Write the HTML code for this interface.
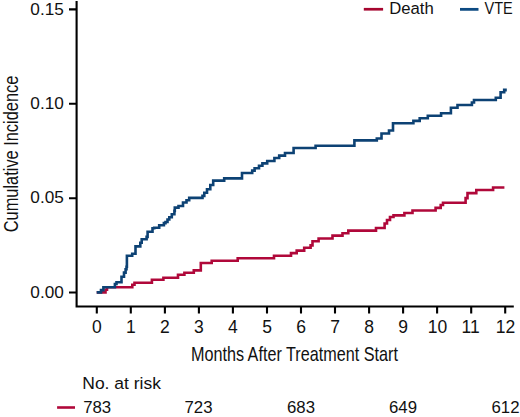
<!DOCTYPE html>
<html><head><meta charset="utf-8"><style>
html,body{margin:0;padding:0;background:#fff;}
svg{display:block;}
text{font-family:"Liberation Sans",sans-serif;fill:#111;}
</style></head><body>
<svg width="520" height="417" viewBox="0 0 520 417">
<!-- axes -->
<g stroke="#000" stroke-width="2.1" fill="none">
<path d="M76.6 1V306.5H513.8"/>
<path d="M69 9.4H76.6M69 103.8H76.6M69 198.2H76.6M69 292.5H76.6"/>
<path d="M96.8 306.5V313.4M130.8 306.5V313.4M164.9 306.5V313.4M198.9 306.5V313.4M232.9 306.5V313.4M267 306.5V313.4M301 306.5V313.4M335 306.5V313.4M369.1 306.5V313.4M403.1 306.5V313.4M437.1 306.5V313.4M471.2 306.5V313.4M505.2 306.5V313.4"/>
</g>
<!-- y tick labels -->
<g font-size="17.2" text-anchor="end">
<text x="63.8" y="14.5">0.15</text>
<text x="63.8" y="109">0.10</text>
<text x="63.8" y="203.4">0.05</text>
<text x="63.8" y="297.6">0.00</text>
</g>
<!-- x tick labels -->
<g font-size="17.5" text-anchor="middle">
<text x="96.8" y="332.6">0</text>
<text x="130.8" y="332.6">1</text>
<text x="164.9" y="332.6">2</text>
<text x="198.9" y="332.6">3</text>
<text x="232.9" y="332.6">4</text>
<text x="267" y="332.6">5</text>
<text x="301" y="332.6">6</text>
<text x="335" y="332.6">7</text>
<text x="369.1" y="332.6">8</text>
<text x="403.1" y="332.6">9</text>
<text x="437.5" y="332.6">10</text>
<text x="470.7" y="332.6">11</text>
<text x="505.6" y="332.6">12</text>
</g>
<!-- axis titles -->
<text x="190.9" y="361" font-size="20.8" textLength="207" lengthAdjust="spacingAndGlyphs">Months After Treatment Start</text>
<text transform="translate(17.6 232.2) rotate(-90)" x="0" y="0" font-size="21" textLength="156.5" lengthAdjust="spacingAndGlyphs">Cumulative Incidence</text>
<!-- legend -->
<path d="M363.8 9.25H383.1" stroke="#a6062f" stroke-width="2.7"/>
<path d="M460 9.35H478.5" stroke="#0c4a82" stroke-width="2.8"/>
<text x="389.2" y="13.8" font-size="16.7">Death</text>
<text x="484.6" y="13.8" font-size="16.7" textLength="28.2" lengthAdjust="spacingAndGlyphs">VTE</text>
<!-- at risk -->
<text x="82.3" y="388.5" font-size="16.9" textLength="78.6" lengthAdjust="spacingAndGlyphs">No. at risk</text>
<path d="M57.1 407.5H75" stroke="#b0083a" stroke-width="2.6"/>
<g font-size="16.8">
<text x="83.2" y="412.5">783</text>
<text x="184.5" y="412.5">723</text>
<text x="287" y="412.5">683</text>
<text x="389" y="412.5">649</text>
<text x="491.5" y="412.5">612</text>
</g>
<!-- curves -->
<g fill="none" stroke-width="2.6" stroke-linejoin="miter" stroke-linecap="butt">
<path stroke="#b0083a" d="M96.7 292.4H105.5V289.8H107V287.2H132.3V284.8H134.5V282.7H151.9V279.8H163.4V277.8H178V274.8H184.4V272.8H193.8V270.4H200.8V263H211.7V260.7H237.7V258.3H274V255.8H291V253.1H296.7V250.6H304.2V247.7H310.6V245.4H312.5V241.3H318.6V238.5H332.5V235.6H342.5V233.3H348.3V230.6H376V228H384.6V223.5H387V220H390V217H393.5V215.4H404.4V213H412.5V210.5H435.6V207.9H440.7V205H443V202.7H465.6V198.1H467.5V193.1H476.3V190H493.1V187.5H504.4"/>
<path stroke="#0d4274" d="M96.7 292.4H101V290.1H103.4V287.2H114.9V284H116.5V282.3H121.5V276.8H124V272.6H125.6V269.3H126.5V266.8H126.9V255.7H132.2V253.8H135.5V246.4H140.3V242.8H141.7V239.2H146.6V236.9H147.6V231.7H152.5V228.2H154.2V227.7H159.2V225.2H163.9V223.1H165.5V222H167.5V219.5H169.3V217.2H171.8V214.3H174.4V210.9H174.8V207.6H178.5V206H183V202.5H186.5V200.3H189.2V197.9H202.5V195.9H204.3V192.7H207V189.2H210.3V185H213.2V180.6H224.2V178.4H242V173H252.2V170.6H254.6V168.2H259V165.8H262.4V163.4H267.2V161H274.4V158H279.2V155.6H285V153H293.6V148H315.6V145.8H354.4V140.4H376.8V138.5H381.5V133.5H389V130.5H393V123.2H413.4V120.9H419.7V118.3H427.8V115.8H441.1V113.2H450.9V107.8H457.5V105H471.9V102.5H474V100H495.8V97.8H500.6V92.3H504.2V89.9H505.5V91.5"/>
</g>
</svg>
</body></html>
